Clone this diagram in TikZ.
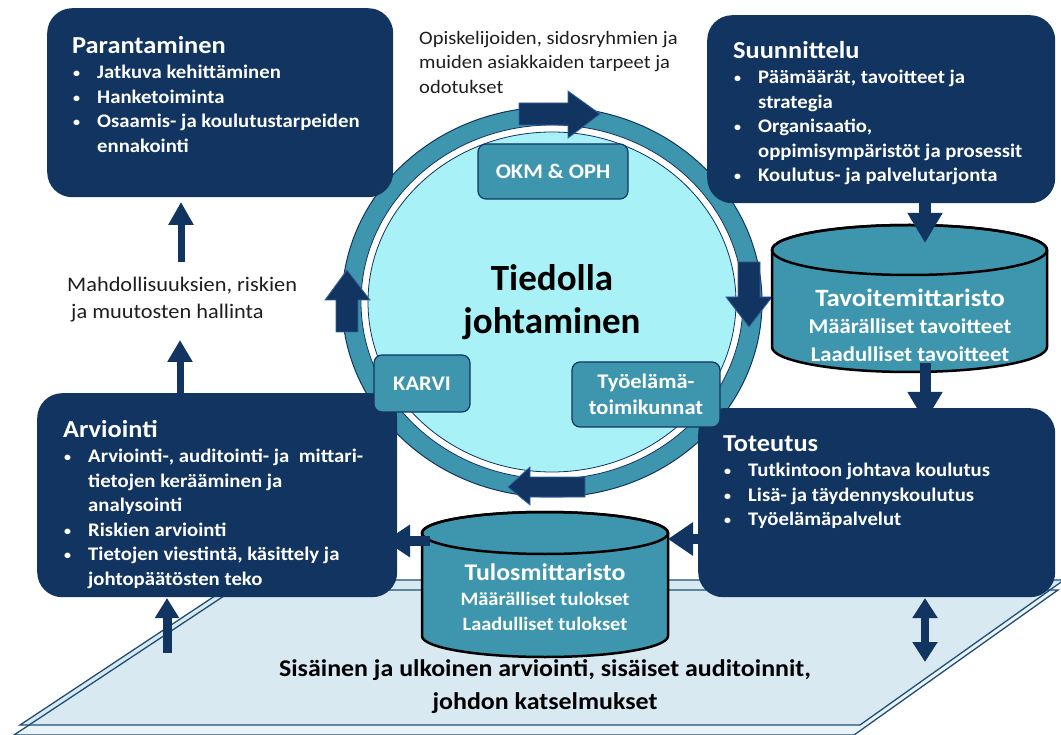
\documentclass[tikz,border=0pt]{standalone}
\usepackage{fontspec}
\setmainfont{Carlito}[FakeStretch=1.08]
\newfontfamily\plainfont{Carlito}
\usetikzlibrary{arrows.meta,shapes.geometric}
\definecolor{navy}{HTML}{113461}
\definecolor{tealc}{HTML}{3E96AE}
\definecolor{cyanc}{HTML}{A8F1F6}
\definecolor{planeA}{HTML}{D9E9F1}
\definecolor{planeB}{HTML}{EAF4F8}
\definecolor{planeline}{HTML}{1F4E79}
\definecolor{arrowedge}{HTML}{3463A0}
\definecolor{darktext}{HTML}{1E1E1E}
\newcommand{\bul}{\makebox[25pt][l]{\hspace*{1pt}\raisebox{1pt}{\fontsize{13}{13}\selectfont •}}}
\newcommand{\ind}{\hspace*{25pt}}
\newcommand{\ttl}[1]{{\fontsize{24.4}{28}\selectfont #1}}
\tikzset{
  navybox/.style={fill=navy, rounded corners=25pt, anchor=north west, inner sep=0pt},
  boxtext/.style={anchor=north west, inner sep=0pt, align=left, text=white, font=\bfseries\fontsize{19.2}{24.5}\selectfont},
  lbl/.style={draw=navy, line width=1.2pt, fill=tealc, rounded corners=8pt, text=white, font=\bfseries\fontsize{20.8}{26}\selectfont, align=center, inner sep=0pt},
  ringarrow/.style={fill=navy, draw=arrowedge, line width=0.8pt},
  cyl/.style={fill=tealc, draw=black, line width=2.5pt},
  cyltext/.style={text=white, align=center, inner sep=0pt},
  plainline/.style={planeline, line width=1.3pt},
}
\begin{document}
\begin{tikzpicture}[x=1pt,y=-1pt]
\useasboundingbox (0,0) rectangle (1061,735);
% ground plane
\fill[planeB] (14,735) -- (854,735) -- (1058,590) -- (233,590) -- cycle;
\fill[planeA] (20,725) -- (860,725) -- (1064,580) -- (239,580) -- cycle;
\draw[plainline] (20,725) -- (860,725) -- (1064,580) -- (239,580) -- cycle;
\draw[plainline] (14,735) -- (854,735) -- (1058,590) -- (233,590) -- cycle;

% central circle
\node[ellipse, fill=tealc, draw=navy, line width=1pt, minimum width=420pt, minimum height=390pt, inner sep=0pt] (ring) at (552,302) {};
\node[ellipse, fill=white, draw=navy, line width=0.8pt, minimum width=382pt, minimum height=354pt, inner sep=0pt] (gap) at (552,302) {};
\node[ellipse, fill=cyanc, draw=navy, line width=0.8pt, minimum width=368pt, minimum height=340pt, inner sep=0pt, align=center, font=\plainfont\bfseries\fontsize{37}{43}\selectfont] (core) at (552,302) {Tiedolla\\johtaminen};

% arrows on the ring
\filldraw[ringarrow] (519,103) -- (568,103) -- (568,91) -- (600,114) -- (568,138) -- (568,125) -- (519,125) -- cycle;
\filldraw[ringarrow] (738,262) -- (760,262) -- (760,297) -- (772,297) -- (749,327) -- (726,297) -- (738,297) -- cycle;
\filldraw[ringarrow] (585,477) -- (530,477) -- (530,467) -- (508,487) -- (530,505) -- (530,497) -- (585,497) -- cycle;
\filldraw[ringarrow] (336,332) -- (336,300) -- (325,300) -- (347,270) -- (370,300) -- (358,300) -- (358,332) -- cycle;

% cylinders
\filldraw[cyl] (772,250) -- (772,347) arc[start angle=180, end angle=0, x radius=137.5, y radius=25] -- (1047,250) arc[start angle=0, end angle=-180, x radius=137.5, y radius=25] -- cycle;
\draw[black, line width=2.5pt] (909.5,250) ellipse [x radius=137.5, y radius=25];
\node[cyltext, font=\bfseries\fontsize{21}{27.5}\selectfont] (tav) at (910,325) {{\fontsize{24.9}{27.5}\selectfont Tavoitemittaristo}\\Määrälliset tavoitteet\\Laadulliset tavoitteet};

\filldraw[cyl] (422,533) -- (422,636) arc[start angle=180, end angle=0, x radius=123, y radius=21] -- (668,533) arc[start angle=0, end angle=-180, x radius=123, y radius=21] -- cycle;
\draw[black, line width=2.5pt] (545,533) ellipse [x radius=123, y radius=21];
\node[cyltext, font=\bfseries\fontsize{18.9}{25}\selectfont] (tul) at (545,597) {{\fontsize{23.9}{25}\selectfont Tulosmittaristo}\\Määrälliset tulokset\\Laadulliset tulokset};

% connector end points
\coordinate (a1s) at (180,393); \coordinate (a1e) at (180,340);
\coordinate (a2s) at (181,262); \coordinate (a2e) at (181,202);
\coordinate (a3s) at (925,190); \coordinate (a3e) at (925,243);
\coordinate (a4s) at (925,363); \coordinate (a4e) at (925,422);
\coordinate (a5s) at (430,541); \coordinate (a5e) at (385,541);
\coordinate (a6s) at (712,539); \coordinate (a6e) at (668,539);
\coordinate (a7s) at (167,653); \coordinate (a7e) at (167,598);
\coordinate (a8s) at (925,598); \coordinate (a8e) at (925,662);

\draw[navy, line width=7pt, -{Triangle[length=22pt,width=24pt]}] (a1s) -- (a1e);
\draw[navy, line width=7pt, -{Triangle[length=23pt,width=24pt]}] (a2s) -- (a2e);
\draw[navy, line width=12pt, -{Triangle[length=30pt,width=33pt]}] (a3s) -- (a3e);
\draw[navy, line width=11pt, -{Triangle[length=30pt,width=33pt]}] (a4s) -- (a4e);
\draw[navy, line width=10pt, -{Triangle[length=25pt,width=31pt]}] (a5s) -- (a5e);
\draw[navy, line width=10pt, -{Triangle[length=25pt,width=32pt]}] (a6s) -- (a6e);
\draw[navy, line width=9pt, -{Triangle[length=20pt,width=23pt]}] (a7s) -- (a7e);
\draw[navy, line width=8pt, {Triangle[length=20pt,width=24pt]}-{Triangle[length=20pt,width=24pt]}] (a8s) -- (a8e);

% boxes
\node[navybox, minimum width=346pt, minimum height=189pt] (par) at (47,8) {};
\node[boxtext] (parT) at (72,36) {\ttl{Parantaminen}\\[1pt]
\bul Jatkuva kehittäminen\\
\bul Hanketoiminta\\
\bul Osaamis- ja koulutustarpeiden\\
\ind ennakointi};

\node[navybox, minimum width=348pt, minimum height=188pt] (suu) at (707,15) {};
\node[boxtext] (suuT) at (733,41) {\ttl{Suunnittelu}\\[1pt]
\bul Päämäärät, tavoitteet ja\\
\ind strategia\\
\bul Organisaatio,\\
\ind oppimisympäristöt ja prosessit\\
\bul Koulutus- ja palvelutarjonta};

\node[navybox, minimum width=360pt, minimum height=204pt] (arv) at (37,393) {};
\node[boxtext] (arvT) at (63,420) {\ttl{Arviointi}\\[1pt]
\bul Arviointi-, auditointi- ja\ \ mittari-\\
\ind tietojen kerääminen ja\\
\ind analysointi\\
\bul Riskien arviointi\\
\bul Tietojen viestintä, käsittely ja\\
\ind johtopäätösten teko};

\node[navybox, minimum width=357pt, minimum height=189pt] (tot) at (698,408) {};
\node[boxtext] (totT) at (723,435) {\ttl{Toteutus}\\[1pt]
\bul Tutkintoon johtava koulutus\\
\bul Lisä- ja täydennyskoulutus\\
\bul Työelämäpalvelut};

% labels on the ring
\node[lbl, minimum width=150pt, minimum height=55pt] (okm) at (553,171.5) {OKM \& OPH};
\node[lbl, minimum width=96pt, minimum height=57pt] (karvi) at (422,383.5) {KARVI};
\node[lbl, minimum width=148pt, minimum height=65pt] (tyo) at (646,394.5) {Työelämä-\\toimikunnat};

% free texts
\node[anchor=north west, inner sep=0pt, align=left, text=darktext, font=\fontsize{19}{24.5}\selectfont] (needs) at (419,31) {Opiskelijoiden, sidosryhmien ja\\muiden asiakkaiden tarpeet ja\\odotukset};
\node[anchor=north west, inner sep=0pt, align=left, text=darktext, font=\fontsize{20.7}{27}\selectfont] (risk) at (67,277) {Mahdollisuuksien, riskien\\\hspace*{4pt}ja muutosten hallinta};
\node[inner sep=0pt, align=center, text=black, font=\bfseries\fontsize{24}{33}\selectfont] (base) at (545,687) {Sisäinen ja ulkoinen arviointi, sisäiset auditoinnit,\\johdon katselmukset};
\end{tikzpicture}
\end{document}
